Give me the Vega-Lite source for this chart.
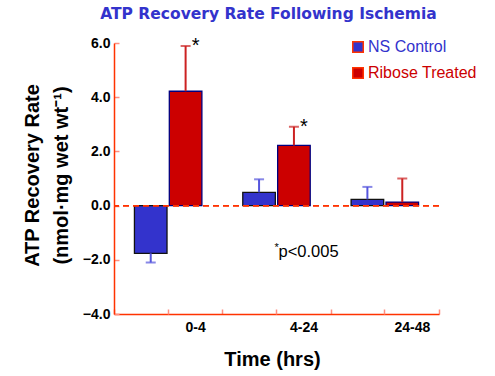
{
  "$schema": "https://vega.github.io/schema/vega-lite/v6.json",
  "width": 325,
  "height": 271,
  "autosize": {"type": "none"},
  "padding": {"left": 114, "top": 43, "right": 56, "bottom": 62},
  "background": "white",
  "title": {
    "text": "ATP Recovery Rate Following  Ischemia",
    "font": "DejaVu Sans",
    "fontSize": 15.5,
    "fontWeight": "bold",
    "color": "#3333cc",
    "anchor": "middle",
    "dx": -8,
    "offset": 13
  },
  "config": {
    "view": {"stroke": null},
    "font": "Liberation Sans",
    "axis": {
      "grid": false,
      "domainColor": "#ff3300",
      "domainWidth": 1.5,
      "tickColor": "#ff8f80",
      "tickWidth": 1.5,
      "tickSize": -5,
      "labelFont": "Liberation Sans",
      "labelFontWeight": "bold",
      "labelFontSize": 14,
      "labelColor": "#000000",
      "titleFont": "Liberation Sans",
      "titleFontWeight": "bold",
      "titleFontSize": 20,
      "titleColor": "#000000"
    }
  },
  "datasets": {
    "bars": [
      {"time": "0-4", "group": "NS Control", "value": -1.76, "err": -2.1, "star": ""},
      {"time": "0-4", "group": "Ribose Treated", "value": 4.22, "err": 5.89, "star": "*"},
      {"time": "4-24", "group": "NS Control", "value": 0.49, "err": 0.97, "star": ""},
      {"time": "4-24", "group": "Ribose Treated", "value": 2.22, "err": 2.91, "star": "*"},
      {"time": "24-48", "group": "NS Control", "value": 0.23, "err": 0.69, "star": ""},
      {"time": "24-48", "group": "Ribose Treated", "value": 0.13, "err": 1.0, "star": ""}
    ],
    "note": [
      {"time": "4-24", "value": -1.89, "mark": "*", "label": "p<0.005"}
    ]
  },
  "data": {"name": "bars"},
  "layer": [
    {
      "mark": {"type": "bar", "strokeWidth": 1.3},
      "encoding": {
        "x": {
          "field": "time",
          "type": "nominal",
          "sort": ["0-4", "4-24", "24-48"],
          "scale": {"paddingInner": 0, "paddingOuter": 0},
          "axis": {
            "orient": "bottom",
            "title": "Time (hrs)",
            "labelAngle": 0,
            "tickBand": "extent",
            "labelOffset": 27,
            "labelPadding": 11,
            "titleX": 158,
            "titleY": 45,
            "titleBaseline": "middle",
            "titleAnchor": null
          }
        },
        "xOffset": {
          "field": "group",
          "type": "nominal",
          "scale": {"paddingInner": 0.066, "paddingOuter": 0.586}
        },
        "y": {
          "field": "value",
          "type": "quantitative",
          "scale": {"domain": [-4, 6], "nice": false, "zero": false},
          "axis": {
            "values": [-4, -2, 0, 2, 4, 6],
            "format": ".1f",
            "labelPadding": 9,
            "title": ["ATP Recovery Rate", "(nmol·mg wet wt⁻¹)"],
            "titleLineHeight": 29,
            "titleAngle": -90,
            "titleAlign": "center",
            "titleBaseline": "middle",
            "titleX": -82,
            "titleY": 132
          }
        },
        "fill": {
          "field": "group",
          "type": "nominal",
          "scale": {"domain": ["NS Control", "Ribose Treated"], "range": ["#3333cc", "#cc0000"]},
          "legend": {
            "title": null,
            "orient": "none",
            "legendX": 236,
            "legendY": -4,
            "padding": 0,
            "symbolType": "square",
            "symbolSize": 110,
            "symbolStrokeColor": "#ff3300",
            "symbolStrokeWidth": 1.5,
            "symbolOpacity": 1,
            "labelFont": "Liberation Sans",
            "labelFontSize": 16,
            "labelOffset": 2,
            "rowPadding": 8,
            "encode": {
              "labels": {
                "update": {
                  "fill": {"signal": "datum.value === 'NS Control' ? '#3333cc' : '#cc0000'"}
                }
              }
            }
          }
        },
        "stroke": {
          "condition": {"test": "datum.group === 'NS Control'", "value": "#111111"},
          "value": "#000080"
        }
      }
    },
    {
      "mark": {"type": "rule", "strokeWidth": 2},
      "encoding": {
        "x": {
          "field": "time",
          "type": "nominal",
          "sort": ["0-4", "4-24", "24-48"],
          "axis": {
            "orient": "bottom",
            "title": null,
            "labels": false,
            "domain": false,
            "tickBand": "center"
          }
        },
        "xOffset": {"field": "group", "type": "nominal"},
        "y": {"field": "value", "type": "quantitative"},
        "y2": {"field": "err"},
        "stroke": {
          "condition": {"test": "datum.group === 'NS Control'", "value": "#5555dd"},
          "value": "#cc2222"
        }
      }
    },
    {
      "mark": {"type": "tick", "orient": "horizontal", "size": 10, "thickness": 2},
      "encoding": {
        "x": {"field": "time", "type": "nominal", "sort": ["0-4", "4-24", "24-48"], "axis": null},
        "xOffset": {"field": "group", "type": "nominal"},
        "y": {"field": "err", "type": "quantitative"},
        "color": {
          "condition": {"test": "datum.group === 'NS Control'", "value": "#5555dd"},
          "value": "#cc2222"
        }
      }
    },
    {
      "transform": [{"filter": "datum.star !== ''"}],
      "mark": {"type": "text", "align": "center", "baseline": "middle", "dx": 10, "dy": 0, "fontSize": 20, "font": "Liberation Sans", "color": "#000000"},
      "encoding": {
        "x": {"field": "time", "type": "nominal", "sort": ["0-4", "4-24", "24-48"], "axis": null},
        "xOffset": {"field": "group", "type": "nominal"},
        "y": {"field": "err", "type": "quantitative"},
        "text": {"field": "star"}
      }
    },
    {
      "mark": {"type": "rule", "strokeDash": [6, 4], "strokeWidth": 1.2, "color": "#ff3300"},
      "encoding": {"y": {"datum": 0}}
    },
    {
      "data": {"name": "note"},
      "mark": {"type": "text", "align": "left", "baseline": "alphabetic", "dx": -2, "dy": -6, "fontSize": 11, "font": "Liberation Sans", "color": "#000000"},
      "encoding": {
        "x": {"field": "time", "type": "nominal", "sort": ["0-4", "4-24", "24-48"], "axis": null},
        "y": {"field": "value", "type": "quantitative"},
        "text": {"field": "mark"}
      }
    },
    {
      "data": {"name": "note"},
      "mark": {"type": "text", "align": "left", "baseline": "alphabetic", "dx": 2, "fontSize": 16.5, "font": "Liberation Sans", "color": "#000000"},
      "encoding": {
        "x": {"field": "time", "type": "nominal", "sort": ["0-4", "4-24", "24-48"], "axis": null},
        "y": {"field": "value", "type": "quantitative"},
        "text": {"field": "label"}
      }
    }
  ],
  "resolve": {"axis": {"x": "independent"}}
}
